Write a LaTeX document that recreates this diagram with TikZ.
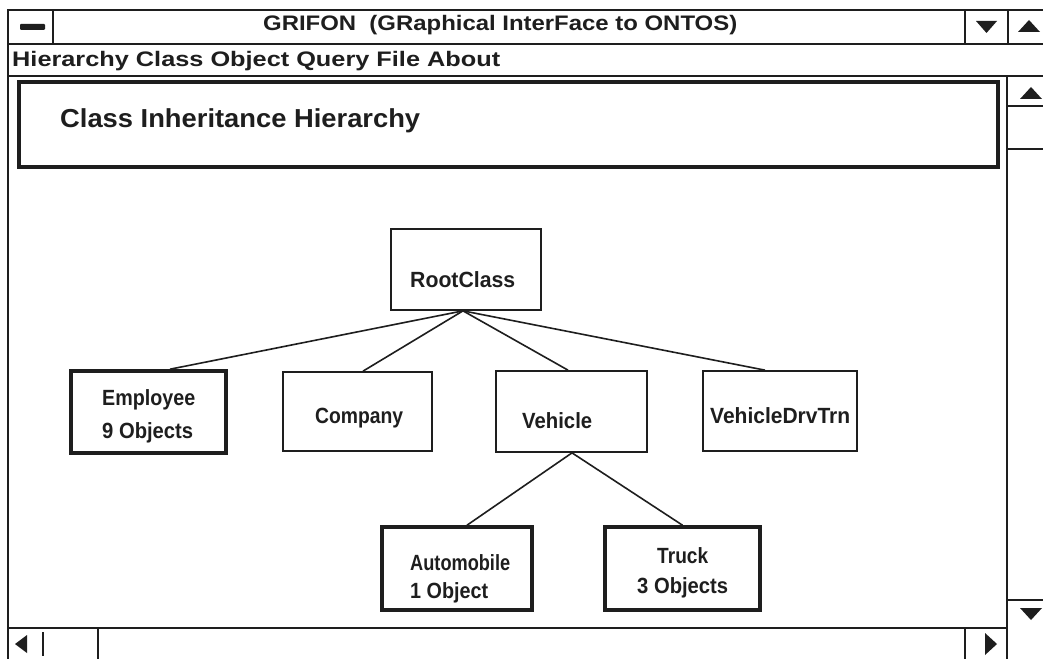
\documentclass[tikz,border=0pt]{standalone}
\usepackage{fontspec}
\setmainfont{Liberation Sans}
\usepackage{graphicx}
% bold text of a given size, stretched or squeezed to a given width
\newcommand{\wtext}[3]{{\fontsize{#1}{#1}\selectfont\bfseries\resizebox{#2pt}{\height}{#3}}}
\definecolor{inkc}{HTML}{1E1E1E}
\begin{document}
\begin{tikzpicture}[x=1pt,y=-1pt,
  ink/.style={draw=inkc, line width=1.7pt},
  heavy/.style={draw=inkc, line width=3.6pt},
  cls/.style={draw=inkc, line width=1.7pt, rectangle, inner sep=0pt, fill=white},
  clsheavy/.style={cls, line width=3.6pt},
  lbl/.style={inner sep=0pt, anchor=base west, text=inkc},
  link/.style={draw=inkc, line width=1.6pt},
  arrowtip/.style={fill=inkc}]
\useasboundingbox (0,0) rectangle (1043,658);
\fill[white] (0,0) rectangle (1043,658);
\clip (0,0) rectangle (1043,658);

% ---- window frame, title bar and menu bar
\draw[ink, line width=2.6pt] (8,10) rectangle (1060,680);
\draw[ink] (8,44) -- (1060,44);
\draw[ink] (53,10) -- (53,44);
\draw[ink] (965,10) -- (965,44);
\draw[ink] (1008,10) -- (1008,44);
\fill[inkc, rounded corners=1pt] (20,24) rectangle (45,30);
\fill[arrowtip] (976,21) -- (997,21) -- (986.5,33) -- cycle;
\fill[arrowtip] (1018,32) -- (1040,32) -- (1029,20) -- cycle;
\node[lbl] (title) at (263,31) {\wtext{21}{474}{GRIFON\ \ (GRaphical InterFace to ONTOS)}};
\draw[ink] (8,76) -- (1060,76);
\node[lbl] (menu) at (12,67) {\wtext{21}{488}{Hierarchy Class Object Query File About}};

% ---- vertical scroll bar
\draw[ink] (1007,76) -- (1007,680);
\draw[ink] (1007,106) -- (1060,106);
\draw[ink] (1007,149) -- (1060,149);
\draw[ink] (1007,600) -- (1060,600);
\fill[arrowtip] (1020,99) -- (1042,99) -- (1031,87) -- cycle;
\fill[arrowtip] (1020,608) -- (1042,608) -- (1031,620) -- cycle;

% ---- horizontal scroll bar
\draw[ink] (8,628) -- (1007,628);
\draw[ink] (43,632) -- (43,656);
\draw[ink] (98,628) -- (98,680);
\draw[ink] (965,628) -- (965,680);
\fill[arrowtip] (15,644) -- (27,635) -- (27,653) -- cycle;
\fill[arrowtip] (997,644) -- (985,633) -- (985,655) -- cycle;

% ---- header panel
\draw[heavy] (19,82) rectangle (998,167);
\node[lbl] (head) at (60,128) {\wtext{26}{360}{Class Inheritance Hierarchy}};

% ---- class boxes
\node[cls, minimum width=150pt, minimum height=81pt] (root) at (466,269.5) {};
\node[clsheavy, minimum width=155pt, minimum height=82pt] (emp) at (148.5,412) {};
\node[cls, minimum width=149pt, minimum height=79pt] (comp) at (357.5,411.5) {};
\node[cls, minimum width=151pt, minimum height=81pt] (veh) at (571.5,411.5) {};
\node[cls, minimum width=154pt, minimum height=80pt] (vdt) at (780,411) {};
\node[clsheavy, minimum width=150pt, minimum height=83pt] (auto) at (457,568.5) {};
\node[clsheavy, minimum width=155pt, minimum height=83pt] (truck) at (682.5,568.5) {};

% ---- class names and object counts
\node[lbl] (rootT) at (410,287) {\wtext{22}{105}{RootClass}};
\node[lbl] (empT) at (102,405) {\wtext{22}{93}{Employee}};
\node[lbl] (empN) at (102,438) {\wtext{22}{91}{9 Objects}};
\node[lbl] (compT) at (315,423) {\wtext{22}{88}{Company}};
\node[lbl] (vehT) at (522,428) {\wtext{22}{70}{Vehicle}};
\node[lbl] (vdtT) at (710,423) {\wtext{22}{140}{VehicleDrvTrn}};
\node[lbl] (autoT) at (410,570) {\wtext{22}{100}{Automobile}};
\node[lbl] (autoN) at (410,598) {\wtext{22}{78}{1 Object}};
\node[lbl] (truckT) at (657,563) {\wtext{22}{51}{Truck}};
\node[lbl] (truckN) at (637,593) {\wtext{22}{91}{3 Objects}};

% ---- inheritance links
\draw[link] ([xshift=-3pt]root.south) -- ([xshift=21.5pt]emp.north);
\draw[link] ([xshift=-3pt]root.south) -- ([xshift=5.5pt]comp.north);
\draw[link] ([xshift=-3pt]root.south) -- ([xshift=-3.5pt]veh.north);
\draw[link] ([xshift=-3pt]root.south) -- ([xshift=-15pt]vdt.north);
\draw[link] ([xshift=0.5pt]veh.south) -- ([xshift=10pt]auto.north);
\draw[link] ([xshift=0.5pt]veh.south) -- (truck.north);
\end{tikzpicture}
\end{document}
